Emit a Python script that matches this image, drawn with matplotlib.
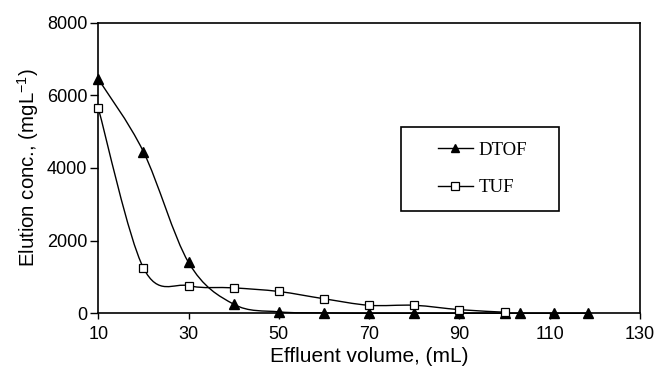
import matplotlib
matplotlib.use("Agg")
import matplotlib.pyplot as plt
import numpy as np
from matplotlib.path import Path
from matplotlib.patches import PathPatch, Rectangle
from matplotlib.lines import Line2D

plt.rcParams['font.family'] = ['Liberation Sans', 'DejaVu Sans']
plt.rcParams['mathtext.fontset'] = 'custom'
plt.rcParams['mathtext.rm'] = 'Liberation Sans'
plt.rcParams['mathtext.it'] = 'Liberation Sans:italic'

# Data
dtof_x = [10, 20, 30, 40, 50, 60, 70, 80, 90, 100, 103.5, 111, 118.5]
dtof_y = [6450, 4450, 1400, 250, 40, 10, 0, 0, 0, 0, 0, 0, 0]
tuf_x = [10, 20, 30, 40, 50, 60, 70, 80, 90, 100]
tuf_y = [5650, 1250, 760, 700, 600, 400, 220, 220, 100, 30]

x_ticks = [10, 30, 50, 70, 90, 110, 130]
y_ticks = [0, 2000, 4000, 6000, 8000]


def smooth_path(xs, ys):
    pts = np.column_stack([xs, ys]).astype(float)
    n = len(pts)
    verts = [pts[0]]
    codes = [Path.MOVETO]
    for i in range(n - 1):
        p0 = pts[i - 1] if i > 0 else pts[i]
        p1 = pts[i]
        p2 = pts[i + 1]
        p3 = pts[i + 2] if i + 2 < n else pts[i + 1]
        c1 = p1 + (p2 - p0) / 6.0
        c2 = p2 - (p3 - p1) / 6.0
        verts += [c1, c2, p2]
        codes += [Path.CURVE4] * 3
    return Path(verts, codes)


fig = plt.figure(figsize=(6.55, 3.69), dpi=100)
ax = fig.add_axes([0.150, 0.151, 0.827, 0.7875])

for xs, ys in [(dtof_x, dtof_y), (tuf_x, tuf_y)]:
    patch = PathPatch(smooth_path(xs, ys), facecolor='none', edgecolor='black',
                      lw=1.0, transform=ax.transData, clip_on=False)
    ax.add_patch(patch)

ax.plot(dtof_x, dtof_y, linestyle='none', marker='^', ms=6.5, mfc='black',
        mec='black', clip_on=False, zorder=5)
ax.plot(tuf_x, tuf_y, linestyle='none', marker='s', ms=6, mfc='white',
        mec='black', mew=0.9, clip_on=False, zorder=5)

ax.set_xlim(10, 130)
ax.set_ylim(0, 8000)
ax.set_xticks(x_ticks)
ax.set_yticks(y_ticks)
ax.tick_params(axis='both', direction='out', length=4, width=1.0,
               labelsize=13, colors='black', pad=2)
ax.tick_params(axis='x', pad=5)
ax.tick_params(axis='y', length=6)
for s in ax.spines.values():
    s.set_linewidth(1.2)
    s.set_color('black')

ax.set_xlabel('Effluent volume, (mL)', fontsize=15, labelpad=3)
ax.set_ylabel('Elution conc., (mgL$^{-1}$)', fontsize=14.7, labelpad=4)

# Legend
handles = [Line2D([], [], color='black', lw=1.0, marker='^', ms=6, mfc='black'),
           Line2D([], [], color='black', lw=1.0, marker='s', ms=5.5, mfc='white', mew=0.9)]
leg = ax.legend(handles, ['DTOF', 'TUF'], loc='center',
                bbox_to_anchor=(0.709, 0.497), frameon=False,
                prop={'family': 'Liberation Serif', 'size': 13.5},
                handlelength=1.85, handletextpad=0.3, labelspacing=1.1,
                borderpad=0.0)
ax.add_patch(Rectangle((0.559, 0.353), 0.291, 0.289, transform=ax.transAxes,
                       facecolor='none', edgecolor='black', lw=1.2, zorder=6))

fig.savefig('out.png', dpi=100)
